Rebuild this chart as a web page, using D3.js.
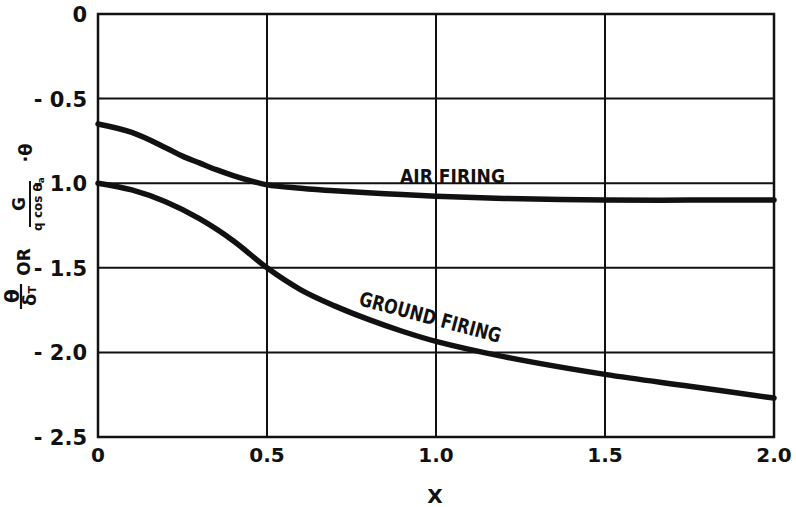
<!DOCTYPE html>
<html><head><meta charset="utf-8">
<script src="https://cdn.jsdelivr.net/npm/d3@7"></script>
<style>body{margin:0;background:#fff}svg{display:block}text{font-family:"DejaVu Sans","Liberation Sans",Arial,sans-serif;font-weight:bold;fill:#111}</style>
</head><body>
<svg id="c" width="796" height="507"></svg>
<script>
const xTicks = [0, 0.5, 1.0, 1.5, 2.0];
const xTickLabels = ["0", "0.5", "1.0", "1.5", "2.0"];
const yTicks = [0, -0.5, -1.0, -1.5, -2.0, -2.5];
const yTickLabels = ["0", "- 0.5", "- 1.0", "- 1.5", "- 2.0", "- 2.5"];

const airX = [0, 0.1, 0.2, 0.25, 0.3, 0.35, 0.4, 0.45, 0.5, 0.6, 0.7, 0.85, 1.0, 1.2, 1.5, 1.75, 2.0];
const airY = [-0.65, -0.70, -0.79, -0.84, -0.88, -0.92, -0.955, -0.985, -1.01, -1.03, -1.045, -1.062, -1.077, -1.09, -1.10, -1.10, -1.10];
const groundX = [0, 0.1, 0.2, 0.3, 0.4, 0.5, 0.6, 0.7, 0.8, 0.9, 1.0, 1.2, 1.5, 1.75, 2.0];
const groundY = [-1.0, -1.04, -1.11, -1.21, -1.34, -1.50, -1.63, -1.725, -1.805, -1.875, -1.935, -2.025, -2.13, -2.20, -2.27];

const svg = d3.select("#c");
const L = 98, R = 774, T = 14, B = 437;
const x = d3.scaleLinear().domain([0, 2]).range([L, R]);
const y = d3.scaleLinear().domain([0, -2.5]).range([T, B]);
const ink = "#111";

// grid
svg.append("g").selectAll("line").data(xTicks.slice(1, -1)).join("line")
  .attr("x1", d => x(d)).attr("x2", d => x(d)).attr("y1", T).attr("y2", B)
  .attr("stroke", ink).attr("stroke-width", 2);
svg.append("g").selectAll("line").data(yTicks.slice(1, -1)).join("line")
  .attr("y1", d => y(d)).attr("y2", d => y(d)).attr("x1", L).attr("x2", R)
  .attr("stroke", ink).attr("stroke-width", 2);
svg.append("rect").attr("x", L).attr("y", T).attr("width", R - L).attr("height", B - T)
  .attr("fill", "none").attr("stroke", ink).attr("stroke-width", 2.5);

// tick labels
svg.append("g").selectAll("text").data(xTicks).join("text")
  .attr("x", d => x(d)).attr("y", 462).attr("text-anchor", "middle")
  .attr("font-size", 20).text((d, i) => xTickLabels[i]);
svg.append("g").selectAll("text").data(yTicks).join("text")
  .attr("x", 87).attr("y", d => y(d) + 8).attr("text-anchor", "end")
  .attr("font-size", 21).text((d, i) => yTickLabels[i]);

// curves
const line = d3.line().x(d => x(d[0])).y(d => y(d[1])).curve(d3.curveCatmullRom.alpha(0.5));
svg.append("path").datum(airX.map((v, i) => [v, airY[i]])).attr("d", line)
  .attr("fill", "none").attr("stroke", ink).attr("stroke-width", 5.5).attr("stroke-linecap", "round");
svg.append("path").datum(groundX.map((v, i) => [v, groundY[i]])).attr("d", line)
  .attr("fill", "none").attr("stroke", ink).attr("stroke-width", 5.5).attr("stroke-linecap", "round");

// curve labels
svg.append("text").attr("x", 400).attr("y", 183).attr("font-size", 20)
  .attr("textLength", 105).attr("lengthAdjust", "spacingAndGlyphs").text("AIR FIRING");
svg.append("text").attr("transform", "translate(358,305) rotate(15)").attr("font-size", 20)
  .attr("textLength", 146).attr("lengthAdjust", "spacingAndGlyphs").text("GROUND FIRING");

// x label
svg.append("text").attr("x", 435).attr("y", 503).attr("text-anchor", "middle").attr("font-size", 20).text("X");

// y label (rotated pieces)
function rt(cx, cy, size, txt) {
  return svg.append("text").attr("transform", `translate(${cx},${cy}) rotate(-90)`)
    .attr("text-anchor", "middle").attr("dominant-baseline", "central").attr("font-size", size).text(txt);
}
rt(12, 296, 20, "θ");
svg.append("line").attr("x1", 21).attr("x2", 21).attr("y1", 284).attr("y2", 309).attr("stroke", ink).attr("stroke-width", 2.2);
const dt = svg.append("text").attr("transform", "translate(29,296) rotate(-90)")
  .attr("text-anchor", "middle").attr("dominant-baseline", "central").attr("font-size", 18);
dt.append("tspan").text("δ");
dt.append("tspan").attr("font-size", 11).attr("dy", 3).text("T");
rt(24, 262, 17, "OR");
rt(19, 204, 17, "G");
svg.append("line").attr("x1", 30).attr("x2", 30).attr("y1", 181).attr("y2", 227).attr("stroke", ink).attr("stroke-width", 2);
const den = svg.append("text").attr("transform", "translate(38,204) rotate(-90)")
  .attr("text-anchor", "middle").attr("dominant-baseline", "central").attr("font-size", 12);
den.append("tspan").text("q cos θ");
den.append("tspan").attr("font-size", 9).attr("dy", 3).text("a");
rt(25, 153, 18, "·θ");
</script>
</body></html>
